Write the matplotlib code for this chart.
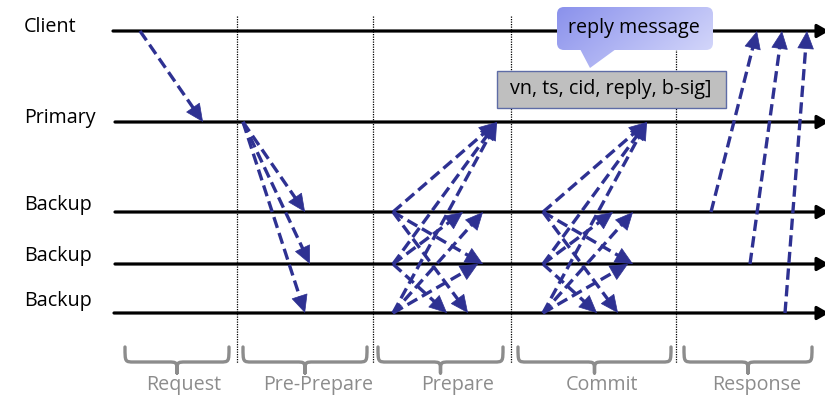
import numpy as np
import matplotlib
matplotlib.use("Agg")
import matplotlib.pyplot as plt
from matplotlib.patches import FancyArrowPatch, FancyBboxPatch, Polygon, Rectangle, PathPatch
from matplotlib.path import Path

plt.rcParams['font.family'] = ['Open Sans', 'DejaVu Sans']

# swim lanes (y in pixel units, top = 0)
lane_names = ["Client", "Primary", "Backup", "Backup", "Backup"]
lane_y = [31, 122, 212, 264, 313]
label_y = [27, 118, 205, 256, 301]
lane_x0 = [113, 115, 115, 115, 114]
lane_x1 = 825

# phase separators and phase names
phase_bounds = [237, 373, 511, 676]
phase_names = ["Request", "Pre-Prepare", "Prepare", "Commit", "Response"]
brace_left = [125, 243, 378, 518, 684]
brace_right = [229, 367, 503, 671, 812]
phase_label_x = [184, 318, 458, 602, 757]

# messages: (from lane, time sent, to lane, time received)
request_msgs = [(0, 140, 1, 203)]
preprepare_msgs = [(1, 243, 2, 305), (1, 243, 3, 310), (1, 243, 4, 305)]
prepare_msgs = [(2, 393, 1, 497), (3, 393, 1, 497), (4, 393, 1, 497),
                (2, 393, 3, 483), (2, 393, 4, 468),
                (3, 393, 2, 463), (3, 393, 4, 447),
                (4, 393, 2, 483), (4, 393, 3, 478)]
commit_msgs = [(2, 543, 1, 647), (3, 543, 1, 647), (4, 543, 1, 647),
               (2, 543, 3, 633), (2, 543, 4, 618),
               (3, 543, 2, 613), (3, 543, 4, 597),
               (4, 543, 2, 633), (4, 543, 3, 628)]
response_msgs = [(2, 711, 0, 757), (3, 750, 0, 782), (4, 785, 0, 807)]

MSG_COLOR = "#2E3192"
GREY = "#8C8C8C"
FS = 14.2

fig = plt.figure(figsize=(8.25, 3.98), dpi=100)
ax = fig.add_axes([0, 0, 1, 1])
ax.set_xlim(0, 825)
ax.set_ylim(398, 0)
ax.axis("off")

# lanes
for name, y, ly, x0 in zip(lane_names, lane_y, label_y, lane_x0):
    ax.add_patch(FancyArrowPatch((x0, y), (lane_x1 + 4, y),
                                 arrowstyle="-|>,head_length=7,head_width=4",
                                 lw=2.3, color="black", shrinkA=0, shrinkB=0, zorder=2))
    ax.text(24, ly, name, fontsize=FS, ha="left", va="center", color="black")

# phase separators
for x in phase_bounds:
    ax.plot([x, x], [16, 363], color="black", lw=0.9, ls=(0, (1, 1)), zorder=1)

# braces
def brace(x0, x1, top=347, mid=362, tip=373, r=9):
    xm = (x0 + x1) / 2
    verts = [(x0, top), (x0, mid), (x0, mid), (x0 + r, mid),
             (xm - r, mid),
             (xm, mid), (xm, mid), (xm, tip),
             (xm, mid), (xm, mid), (xm + r, mid),
             (x1 - r, mid),
             (x1, mid), (x1, mid), (x1, top)]
    codes = [Path.MOVETO, Path.CURVE4, Path.CURVE4, Path.CURVE4,
             Path.LINETO,
             Path.CURVE4, Path.CURVE4, Path.CURVE4,
             Path.CURVE4, Path.CURVE4, Path.CURVE4,
             Path.LINETO,
             Path.CURVE4, Path.CURVE4, Path.CURVE4]
    ax.add_patch(PathPatch(Path(verts, codes), fill=False, ec=GREY, lw=2.4,
                           capstyle="round", joinstyle="round"))

for name, bl, br, lx in zip(phase_names, brace_left, brace_right, phase_label_x):
    brace(bl, br)
    ax.text(lx, 385, name, fontsize=FS, ha="center", va="center", color=GREY)

# messages
def message(src, t0, dst, t1):
    p0 = np.array([t0, lane_y[src]], float)
    p1 = np.array([t1, lane_y[dst]], float)
    d = (p1 - p0) / np.hypot(*(p1 - p0))
    pb = p1 - d * 12
    ax.plot([p0[0], pb[0]], [p0[1], pb[1]], color=MSG_COLOR, lw=2.4,
            ls=(0, (3.4, 1.6)), zorder=3)
    ax.add_patch(FancyArrowPatch(tuple(p1 - d * 1.5), tuple(p1),
                                 arrowstyle="-|>,head_length=12,head_width=5.6",
                                 lw=0.5, color=MSG_COLOR, shrinkA=0, shrinkB=0, zorder=3))

for msgs in (request_msgs, preprepare_msgs, prepare_msgs, commit_msgs, response_msgs):
    for m in msgs:
        message(*m)

# grey message box
ax.add_patch(Rectangle((497, 71), 229, 37, fc="#BFBFBF", ec="#5E6CA6", lw=1.0, zorder=4))
ax.text(611, 89, "vn, ts, cid, reply, b-sig]", fontsize=FS, ha="center", va="center",
        color="black", zorder=5)

# callout with gradient fill
grad = np.linspace(0, 1, 256)
gx, gy = np.meshgrid(grad, grad)
g = np.clip(0.75 * gx + 0.35 * gy, 0, 1)
c0 = np.array(matplotlib.colors.to_rgb("#8A91EC"))
c1 = np.array(matplotlib.colors.to_rgb("#D3D6FA"))
img = c0 + (c1 - c0) * g[..., None]

box = FancyBboxPatch((557, 7), 156, 43, boxstyle="round,pad=0,rounding_size=7",
                     fc="none", ec="none", zorder=5)
tail = Polygon([(580, 49), (616, 49), (590, 68)], closed=True, fc="none", ec="none", zorder=5)
ax.add_patch(box)
ax.add_patch(tail)
for clip in (box, tail):
    im = ax.imshow(img, extent=(557, 713, 68, 7), zorder=5, interpolation="bilinear",
                   aspect="auto")
    im.set_clip_path(clip)
ax.text(634, 28, "reply message", fontsize=FS, ha="center", va="center",
        color="black", zorder=6)
ax.set_xlim(0, 825)
ax.set_ylim(398, 0)

fig.savefig("out.png", dpi=100)
